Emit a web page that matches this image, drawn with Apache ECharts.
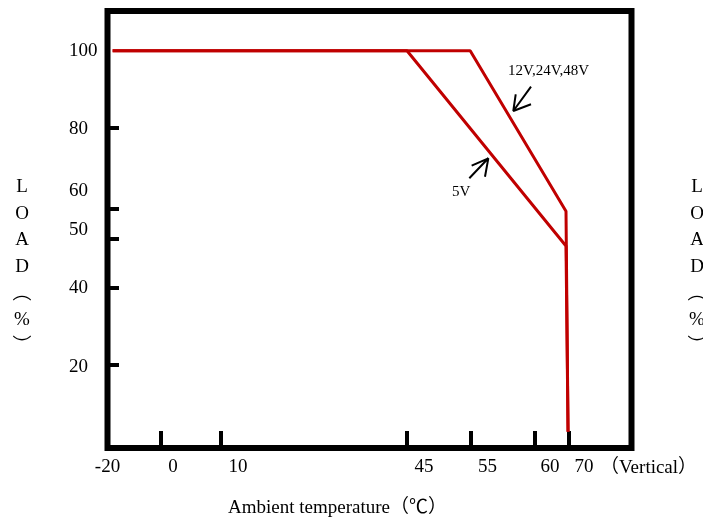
<!DOCTYPE html>
<html><head><meta charset="utf-8">
<script src="https://cdn.jsdelivr.net/npm/echarts@6/dist/echarts.min.js"></script>
<style>html,body{margin:0;padding:0;background:#fff}#c{width:703px;height:520px}</style>
</head><body><div id="c"></div>
<script>
const FONT = "'Liberation Serif','Times New Roman','Noto Sans CJK SC',serif";

// Derating curves: [axis position, load %]
const curve12V = [[-19, 100], [50.6, 100], [69.25, 59.6], [69.65, 4.1]];
const curve5V  = [[-19, 100], [38.3, 100], [69.25, 50.85], [69.65, 4.1]];

// Pointer arrows (tail -> tip -> barb -> tip -> barb)
const arrow12V = [[62.44, 90.95], [58.99, 84.83], [59.46, 89.03], [58.99, 84.83], [62.44, 86.52]];
const arrow5V  = [[50.43, 67.89], [54.13, 72.92], [50.89, 71.06], [54.13, 72.92], [53.48, 68.29]];

// Annotation texts
const annoNames = ['12V,24V,48V', '5V'];
const annoPos = [[57.96, 95.0], [47.06, 64.4]];

// X axis ticks & labels (as printed)
const xTickPos = [-9.59, 2.04, 38.24, 50.62, 63.08, 69.70];
const xLabelPos = [-20, -7.25, 5.40, 41.61, 53.97, 66.14, 72.76];
const xLabelText = ['-20', '0', '10', '45', '55', '60', '70'];

// Y axis ticks & labels (as printed)
const yTickPos = [20.9, 40.35, 52.6, 60.2, 80.5];
const yLabelPos = [20.4, 40.3, 54.9, 64.7, 80.3, 99.9];
const yLabelText = ['20', '40', '50', '60', '80', '100'];

function nearestText(posArr, textArr, v) {
  let best = 0, d = Infinity;
  posArr.forEach((p, i) => { const dd = Math.abs(p - v); if (dd < d) { d = dd; best = i; } });
  return textArr[best];
}

const chart = echarts.init(document.getElementById('c'), null, {renderer: 'canvas'});
const RED = '#C00000';
chart.setOption({
  backgroundColor: '#ffffff',
  animation: false,
  grid: {left: 107.5, right: 71.5, top: 11, bottom: 72, show: true, borderColor: '#000', borderWidth: 6, backgroundColor: 'transparent'},
  xAxis: {
    type: 'value', min: -20, max: 82,
    axisLine: {show: false, onZero: false},
    splitLine: {show: false},
    axisTick: {show: true, inside: true, length: 17, customValues: xTickPos, lineStyle: {color: '#000', width: 4}},
    axisLabel: {show: true, customValues: xLabelPos, margin: 10, color: '#000', fontSize: 19, fontFamily: FONT,
      formatter: v => nearestText(xLabelPos, xLabelText, v)}
  },
  yAxis: {
    type: 'value', min: 0, max: 110,
    axisLine: {show: false, onZero: false},
    splitLine: {show: false},
    axisTick: {show: true, inside: true, length: 11.5, customValues: yTickPos, lineStyle: {color: '#000', width: 4}},
    axisLabel: {show: true, customValues: yLabelPos, margin: 38.5, align: 'left', color: '#000', fontSize: 19, fontFamily: FONT,
      formatter: v => nearestText(yLabelPos, yLabelText, v)}
  },
  series: [
    {type: 'line', name: '5V', data: curve5V, symbol: 'none', lineStyle: {color: RED, width: 3}, z: 3},
    {type: 'line', name: '12V,24V,48V', data: curve12V, symbol: 'none', lineStyle: {color: RED, width: 3}, z: 3},
    {type: 'line', data: arrow12V, symbol: 'none', lineStyle: {color: '#000', width: 2}, z: 4},
    {type: 'line', data: arrow5V, symbol: 'none', lineStyle: {color: '#000', width: 2}, z: 4},
    {type: 'scatter', symbolSize: 0, z: 5, itemStyle: {opacity: 1},
      data: annoPos.map((p, i) => ({value: p, name: annoNames[i]})),
      label: {show: true, formatter: '{b}', position: 'right', distance: 0, color: '#000', opacity: 1, fontSize: 15, fontFamily: FONT}}
  ],
  graphic: [
    {type: 'text', x: 22, y: 173.6, style: {text: 'L\nO\nA\nD\n︵\n%\n︶', align: 'center', verticalAlign: 'top', fill: '#000', fontSize: 19, fontFamily: FONT, lineHeight: 26.7}},
    {type: 'text', x: 697, y: 173.6, style: {text: 'L\nO\nA\nD\n︵\n%\n︶', align: 'center', verticalAlign: 'top', fill: '#000', fontSize: 19, fontFamily: FONT, lineHeight: 26.7}},
    {type: 'text', x: 228, y: 508, style: {text: 'Ambient temperature（℃）', align: 'left', verticalAlign: 'middle', fill: '#000', fontSize: 19, fontFamily: FONT}},
    {type: 'text', x: 600, y: 468, style: {text: '（Vertical）', align: 'left', verticalAlign: 'middle', fill: '#000', fontSize: 19, fontFamily: FONT}}
  ]
});
</script>
</body></html>
